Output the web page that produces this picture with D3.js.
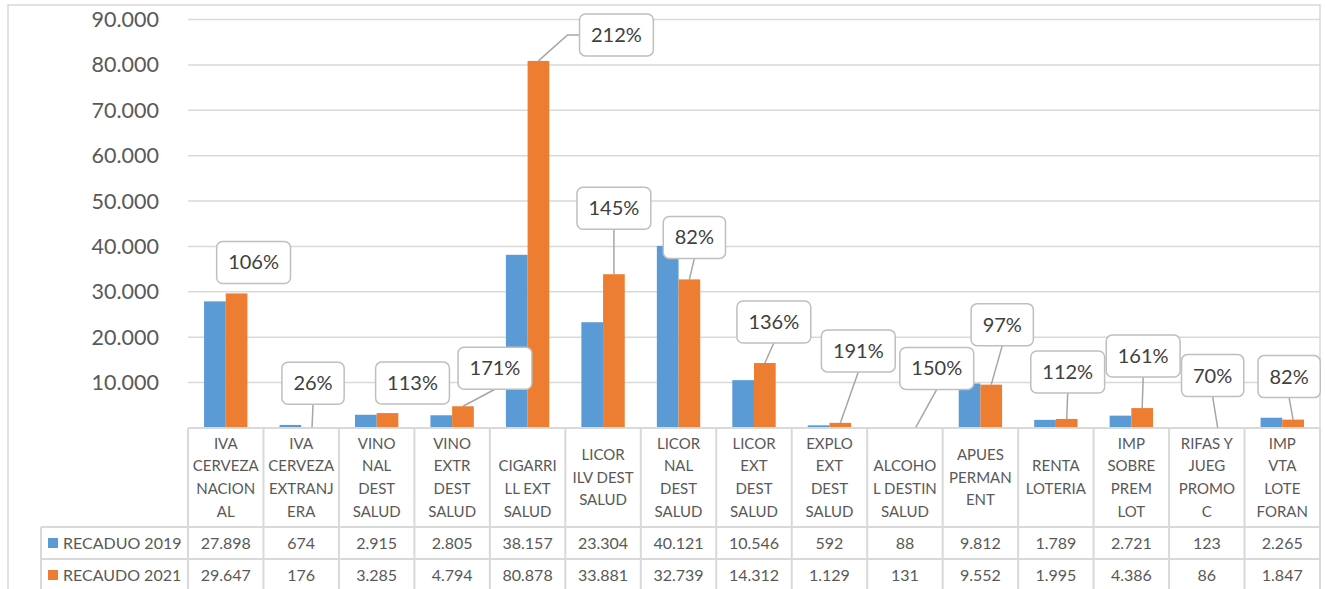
<!DOCTYPE html>
<meta charset="utf-8">
<style>
body { margin: 0; background: #fff; }
text { font-family: Lato, "Open Sans", sans-serif; fill: #595959; }
.grid line { stroke: #d9d9d9; stroke-width: 1.5px; }
.cell { stroke: #d9d9d9; stroke-width: 2px; fill: none; }
.callout rect { fill: #fff; stroke: #bfbfbf; stroke-width: 1.5px; }
.callout text { fill: #404040; font-size: 20px; }
.leader { fill: none; stroke: #a6a6a6; stroke-width: 1.5px; }
</style>
<body>
<script src="https://d3js.org/d3.v7.min.js"></script>
<script>

var categories = [
  ["IVA", "CERVEZA", "NACION", "AL"],
  ["IVA", "CERVEZA", "EXTRANJ", "ERA"],
  ["VINO", "NAL", "DEST", "SALUD"],
  ["VINO", "EXTR", "DEST", "SALUD"],
  ["", "CIGARRI", "LL EXT", "SALUD"],
  ["LICOR", "ILV DEST", "SALUD"],
  ["LICOR", "NAL", "DEST", "SALUD"],
  ["LICOR", "EXT", "DEST", "SALUD"],
  ["EXPLO", "EXT", "DEST", "SALUD"],
  ["", "ALCOHO", "L DESTIN", "SALUD"],
  ["APUES", "PERMAN", "ENT"],
  ["RENTA", "LOTERIA"],
  ["IMP", "SOBRE", "PREM", "LOT"],
  ["RIFAS Y", "JUEG", "PROMO", "C"],
  ["IMP", "VTA", "LOTE", "FORAN"]
];
var seriesNames = ["RECADUO 2019", "RECAUDO 2021"];
var recaudo2019 = [27898, 674, 2915, 2805, 38157, 23304, 40121, 10546, 592, 88, 9812, 1789, 2721, 123, 2265];
var recaudo2021 = [29647, 176, 3285, 4794, 80878, 33881, 32739, 14312, 1129, 131, 9552, 1995, 4386, 86, 1847];
var pctLabels = ["106%", "26%", "113%", "171%", "212%", "145%", "82%", "136%", "191%", "150%", "97%", "112%", "161%", "70%", "82%"];
var yTicks = [10000, 20000, 30000, 40000, 50000, 60000, 70000, 80000, 90000];

// where each callout box sits, relative to the top of its orange bar
var labelOffsets = [[17, -31], [1, -44], [25, -30], [32, -38], [78, -26], [0, -66], [5, -42], [9, -41],
                    [18, -72], [21, -59], [11, -60], [1, -47], [1, -52], [-5, -52], [-4, -43]];

var colors = ["#5b9bd5", "#ed7d31"];
var W = 1325, H = 589;
var plot = {left: 188, right: 1320, top: 19.5, bottom: 428};
var tableLeft = 41, row1 = 527, row2 = 559, row3 = 591;

var fmt = d3.formatLocale({decimal: ",", thousands: ".", grouping: [3], currency: ["", ""]}).format(",d");

var svg = d3.select("body").append("svg")
    .attr("width", W)
    .attr("height", H);

// chart border
svg.append("rect")
    .attr("x", 8).attr("y", 5)
    .attr("width", 1312).attr("height", 620)
    .attr("fill", "none")
    .attr("stroke", "#d9d9d9")
    .attr("stroke-width", 1.5);

var x = d3.scaleBand().domain(d3.range(categories.length)).range([plot.left, plot.right]);
var x1 = d3.scaleBand().domain([0, 1]).range([0, x.bandwidth()]).paddingOuter(0.74);
var y = d3.scaleLinear().domain([0, 90000]).range([plot.bottom, plot.top]);

// gridlines
svg.append("g")
    .attr("class", "grid")
  .selectAll("line")
  .data(yTicks)
  .join("line")
    .attr("x1", plot.left).attr("x2", plot.right)
    .attr("y1", function(d) { return y(d); })
    .attr("y2", function(d) { return y(d); });

// y axis labels
svg.append("g")
  .selectAll("text")
  .data(yTicks)
  .join("text")
    .attr("x", 159)
    .attr("y", function(d) { return y(d); })
    .attr("dy", "0.35em")
    .attr("text-anchor", "end")
    .style("font-size", "21.5px")
    .text(function(d) { return fmt(d); });

// bars
var series = [recaudo2019, recaudo2021];
series.forEach(function(vals, s) {
  svg.append("g")
    .selectAll("rect")
    .data(vals)
    .join("rect")
      .attr("x", function(d, i) { return x(i) + x1(s); })
      .attr("width", x1.bandwidth())
      .attr("y", function(d) { return y(d); })
      .attr("height", function(d) { return y(0) - y(d); })
      .attr("fill", colors[s]);
});

// data table
var tbl = svg.append("g");
tbl.append("line").attr("class", "cell")
    .attr("x1", plot.left).attr("x2", plot.right)
    .attr("y1", plot.bottom).attr("y2", plot.bottom);
[row1, row2, row3].forEach(function(ry) {
  tbl.append("line").attr("class", "cell")
      .attr("x1", tableLeft).attr("x2", plot.right)
      .attr("y1", ry).attr("y2", ry);
});
tbl.append("line").attr("class", "cell")
    .attr("x1", tableLeft).attr("x2", tableLeft)
    .attr("y1", row1).attr("y2", row3);
d3.range(categories.length + 1).forEach(function(i) {
  var cx = i < categories.length ? x(i) : plot.right;
  tbl.append("line").attr("class", "cell")
      .attr("x1", cx).attr("x2", cx)
      .attr("y1", plot.bottom).attr("y2", row3);
});

// header text
var lineH = 22.7, headMid = (plot.bottom + row1) / 2;
categories.forEach(function(lines, i) {
  var t = tbl.append("text")
      .attr("text-anchor", "middle")
      .style("font-size", "15px");
  lines.forEach(function(l, k) {
    t.append("tspan")
        .attr("x", x(i) + x.bandwidth() / 2)
        .attr("y", headMid + (k - (lines.length - 1) / 2) * lineH)
        .attr("dy", "0.35em")
        .text(l);
  });
});

// value rows + legend keys
var rowMids = [(row1 + row2) / 2, (row2 + row3) / 2];
series.forEach(function(vals, s) {
  tbl.append("rect")
      .attr("x", 48).attr("y", rowMids[s] - 5)
      .attr("width", 10).attr("height", 10)
      .attr("fill", colors[s]);
  tbl.append("text")
      .attr("x", 63).attr("y", rowMids[s])
      .attr("dy", "0.35em")
      .style("font-size", "16px")
      .text(seriesNames[s]);
  tbl.selectAll(null)
    .data(vals)
    .join("text")
      .attr("x", function(d, i) { return x(i) + x.bandwidth() / 2; })
      .attr("y", rowMids[s])
      .attr("dy", "0.35em")
      .attr("text-anchor", "middle")
      .style("font-size", "16px")
      .text(function(d) { return fmt(d); });
});

// percentage callouts with leader lines
var boxH = 42, padX = 11.5;
var leaders = svg.append("g");
var callouts = svg.append("g");
pctLabels.forEach(function(lbl, i) {
  var bx = x(i) + x1(1) + x1.bandwidth() / 2;
  var by = y(recaudo2021[i]);
  var cx = bx + labelOffsets[i][0], cy = by + labelOffsets[i][1];
  var g = callouts.append("g").attr("class", "callout");
  var r = g.append("rect");
  var t = g.append("text")
      .attr("x", cx).attr("y", cy)
      .attr("dy", "0.35em")
      .attr("text-anchor", "middle")
      .text(lbl);
  var w = t.node().getComputedTextLength() + 2 * padX;
  r.attr("x", cx - w / 2).attr("y", cy - boxH / 2)
   .attr("width", w).attr("height", boxH)
   .attr("rx", 6).attr("ry", 6);

  var bottom = cy + boxH / 2;
  if (Math.abs(cx - bx) > w / 2) {
    // label off to the side: elbow from its left edge
    var ex = cx - w / 2;
    leaders.append("path").attr("class", "leader")
        .attr("d", "M" + ex + "," + cy + "H" + (ex - 12) + "L" + bx + "," + by);
  } else if (by - bottom > 12) {
    leaders.append("line").attr("class", "leader")
        .attr("x1", cx).attr("y1", bottom)
        .attr("x2", bx).attr("y2", by);
  }
});

</script>
</body>
